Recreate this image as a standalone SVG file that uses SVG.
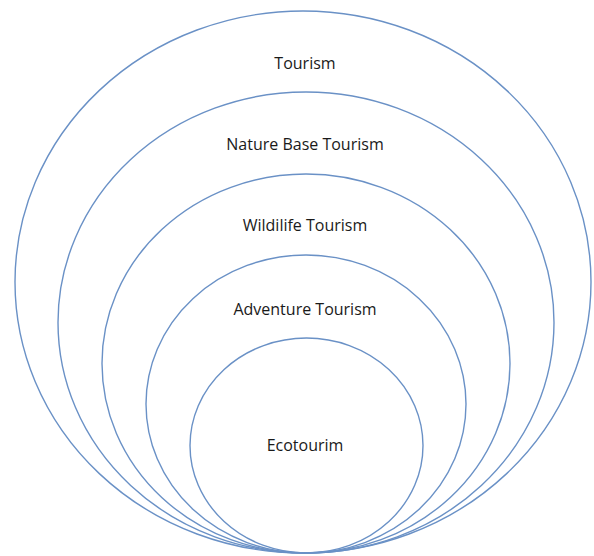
<svg xmlns="http://www.w3.org/2000/svg" width="594" height="556" viewBox="0 0 594 556">
<style>
.ring{fill:none;stroke:#6a91c6;stroke-width:1.4}
.lbl{font-family:"Open Sans","Noto Sans","Liberation Sans",sans-serif;font-size:16px;fill:#1a1a1a;text-anchor:middle}
</style>
<rect width="594" height="556" fill="#ffffff"/>
<g id="tourism"><ellipse class="ring" cx="303" cy="282" rx="288" ry="271"/><text class="lbl" x="305" y="69">Tourism</text></g>
<g id="nature"><ellipse class="ring" cx="306" cy="322.5" rx="248" ry="230.5"/><text class="lbl" x="305" y="150">Nature Base Tourism</text></g>
<g id="wildlife"><ellipse class="ring" cx="306" cy="363.5" rx="204" ry="189.5"/><text class="lbl" x="305" y="231">Wildilife Tourism</text></g>
<g id="adventure"><ellipse class="ring" cx="306" cy="404" rx="160" ry="149"/><text class="lbl" x="305" y="315">Adventure Tourism</text></g>
<g id="eco"><ellipse class="ring" cx="306.5" cy="445.5" rx="116.5" ry="107.5"/><text class="lbl" x="305" y="451">Ecotourim</text></g>
<g id="connectors"/>
</svg>
